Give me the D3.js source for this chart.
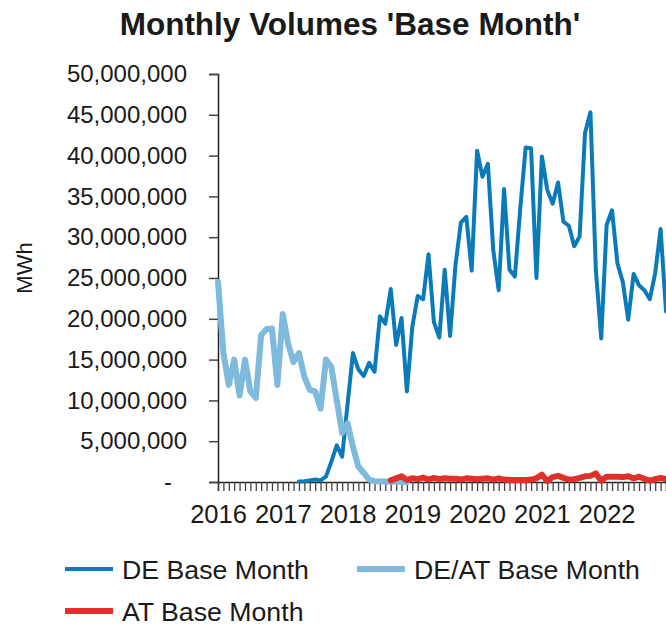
<!DOCTYPE html>
<html>
<head>
<meta charset="utf-8">
<script src="https://cdn.jsdelivr.net/npm/d3@7/dist/d3.min.js"></script>
<style>
  html, body { margin: 0; padding: 0; background: #fff; }
  svg { display: block; font-family: "Liberation Sans", Arial, sans-serif; }
</style>
</head>
<body>
<svg id="chart" width="666" height="625"></svg>
<script>
// Monthly traded volumes (MWh), Jan 2016 – Dec 2022
const years = ["2016", "2017", "2018", "2019", "2020", "2021", "2022"];
const months = years.flatMap(y => d3.range(1, 13).map(m => `${y}-${String(m).padStart(2, "0")}`));

// DE Base Month (starts in 2017)
const deBase = [
  null, null, null, null, null, null, null, null, null, null, null, null,
  null, null, null, 0.05e6, 0.1e6, 0.2e6, 0.3e6, 0.2e6, 0.65e6, 2.5e6, 4.5e6, 3.1e6,
  9.5e6, 15.8e6, 13.8e6, 13.0e6, 14.6e6, 13.5e6, 20.3e6, 19.4e6, 23.65e6, 16.8e6, 20.1e6, 11.1e6,
  19.0e6, 22.8e6, 22.4e6, 27.9e6, 19.6e6, 17.7e6, 26.0e6, 17.9e6, 26.6e6, 31.8e6, 32.5e6, 25.9e6,
  40.6e6, 37.4e6, 39.0e6, 28.4e6, 23.5e6, 35.9e6, 26.0e6, 25.2e6, 33.5e6, 41.0e6, 40.9e6, 25.0e6,
  39.9e6, 35.8e6, 34.1e6, 36.7e6, 31.9e6, 31.4e6, 28.9e6, 30.1e6, 42.8e6, 45.3e6, 26.0e6, 17.6e6,
  31.5e6, 33.3e6, 26.8e6, 24.5e6, 19.9e6, 25.5e6, 24.1e6, 23.5e6, 22.4e6, 25.6e6, 31.0e6, 20.9e6
];

// DE/AT Base Month (runs out in 2018)
const deAtBase = [
  24.5e6, 15.8e6, 11.9e6, 15.0e6, 10.6e6, 15.0e6, 11.1e6, 10.3e6, 18.0e6, 18.75e6, 18.8e6, 11.9e6,
  20.6e6, 16.9e6, 14.7e6, 15.8e6, 12.9e6, 11.3e6, 11.1e6, 9.0e6, 15.0e6, 14.1e6, 10.0e6, 6.0e6,
  7.2e6, 4.3e6, 1.9e6, 1.1e6, 0.3e6, 0.1e6, 0.05e6, 0.05e6, 0.02e6, 0.02e6, 0.01e6, 0,
  null, null, null, null, null, null, null, null, null, null, null, null,
  null, null, null, null, null, null, null, null, null, null, null, null,
  null, null, null, null, null, null, null, null, null, null, null, null,
  null, null, null, null, null, null, null, null, null, null, null, null
];

// AT Base Month (starts in 2018)
const atBase = [
  null, null, null, null, null, null, null, null, null, null, null, null,
  null, null, null, null, null, null, null, null, null, null, null, null,
  null, null, null, null, null, null, null, null, 0.2e6, 0.45e6, 0.7e6, 0.25e6,
  0.45e6, 0.35e6, 0.55e6, 0.3e6, 0.5e6, 0.35e6, 0.45e6, 0.4e6, 0.4e6, 0.3e6, 0.45e6, 0.4e6,
  0.35e6, 0.4e6, 0.45e6, 0.3e6, 0.45e6, 0.3e6, 0.25e6, 0.25e6, 0.25e6, 0.25e6, 0.3e6, 0.45e6,
  0.9e6, 0.1e6, 0.6e6, 0.75e6, 0.5e6, 0.3e6, 0.35e6, 0.5e6, 0.7e6, 0.75e6, 1.05e6, 0.15e6,
  0.65e6, 0.65e6, 0.65e6, 0.6e6, 0.7e6, 0.45e6, 0.65e6, 0.4e6, 0.15e6, 0.35e6, 0.5e6, 0.35e6
];

const yTicks = [0, 5e6, 10e6, 15e6, 20e6, 25e6, 30e6, 35e6, 40e6, 45e6, 50e6];

const series = [
  { name: "DE Base Month", values: deBase, color: "#0A7BB8", width: 4 },
  { name: "DE/AT Base Month", values: deAtBase, color: "#7DBADB", width: 6 },
  { name: "AT Base Month", values: atBase, color: "#DF3129", width: 6 }
];

const svg = d3.select("#chart");
const plot = { left: 218, right: 666, top: 74, bottom: 482 };

const x = d3.scalePoint().domain(months).range([plot.left, plot.right]).padding(0);
const y = d3.scaleLinear().domain([0, 50e6]).range([plot.bottom, plot.top]);

// Title
svg.append("text")
  .attr("x", 350).attr("y", 35)
  .attr("text-anchor", "middle")
  .attr("font-size", 31.5).attr("font-weight", "bold").attr("fill", "#1a1a1a")
  .text("Monthly Volumes 'Base Month'");

// Y axis
const fmt = d3.format(",");
const yAxis = svg.append("g")
  .attr("transform", `translate(${plot.left},0)`)
  .call(d3.axisLeft(y).tickValues(yTicks).tickSize(9).tickPadding(22)
    .tickFormat(d => d === 0 ? "-" : fmt(d)));
yAxis.select(".domain").attr("stroke", "#222").attr("stroke-width", 1.5);
yAxis.selectAll(".tick line").attr("stroke", "#444").attr("stroke-width", 1.5);
yAxis.selectAll(".tick text").attr("font-size", 24).attr("fill", "#1a1a1a")
  .attr("font-family", "'Liberation Sans', Arial, sans-serif");
yAxis.selectAll(".tick").filter(d => d === 0).select("text").attr("dx", -15);

// Y axis title
svg.append("text")
  .attr("transform", "translate(32,268) rotate(-90)")
  .attr("text-anchor", "middle")
  .attr("font-size", 22).attr("fill", "#1a1a1a")
  .text("MWh");

// X axis: a tick per month, year labels on January
const xAxis = svg.append("g")
  .attr("transform", `translate(0,${plot.bottom})`)
  .call(d3.axisBottom(x).tickValues(months).tickSize(9).tickPadding(14)
    .tickFormat(d => d.endsWith("-01") ? d.slice(0, 4) : ""));
xAxis.select(".domain").attr("stroke", "#222").attr("stroke-width", 1.5);
xAxis.selectAll(".tick line").attr("stroke", "#444").attr("stroke-width", 1.3);
xAxis.selectAll(".tick text").attr("font-size", 25.5).attr("fill", "#1a1a1a")
  .attr("font-family", "'Liberation Sans', Arial, sans-serif");

// Series lines
const line = d3.line()
  .defined(d => d.v !== null)
  .x(d => x(d.m))
  .y(d => y(d.v))
  .curve(d3.curveLinear);

series.forEach(s => {
  svg.append("path")
    .datum(months.map((m, i) => ({ m, v: s.values[i] })))
    .attr("fill", "none")
    .attr("stroke", s.color)
    .attr("stroke-width", s.width)
    .attr("stroke-linejoin", "round")
    .attr("stroke-linecap", "round")
    .attr("d", line);
});

// Legend
const legendItems = [
  { s: series[0], x: 65, y: 569 },
  { s: series[1], x: 357, y: 569 },
  { s: series[2], x: 65, y: 611 }
];
const lg = svg.append("g");
legendItems.forEach(it => {
  lg.append("line")
    .attr("x1", it.x).attr("x2", it.x + 48)
    .attr("y1", it.y).attr("y2", it.y)
    .attr("stroke", it.s.color).attr("stroke-width", it.s.width);
  lg.append("text")
    .attr("x", it.x + 57).attr("y", it.y + 9.5)
    .attr("font-size", 26.7).attr("fill", "#1a1a1a")
    .text(it.s.name);
});
</script>
</body>
</html>
